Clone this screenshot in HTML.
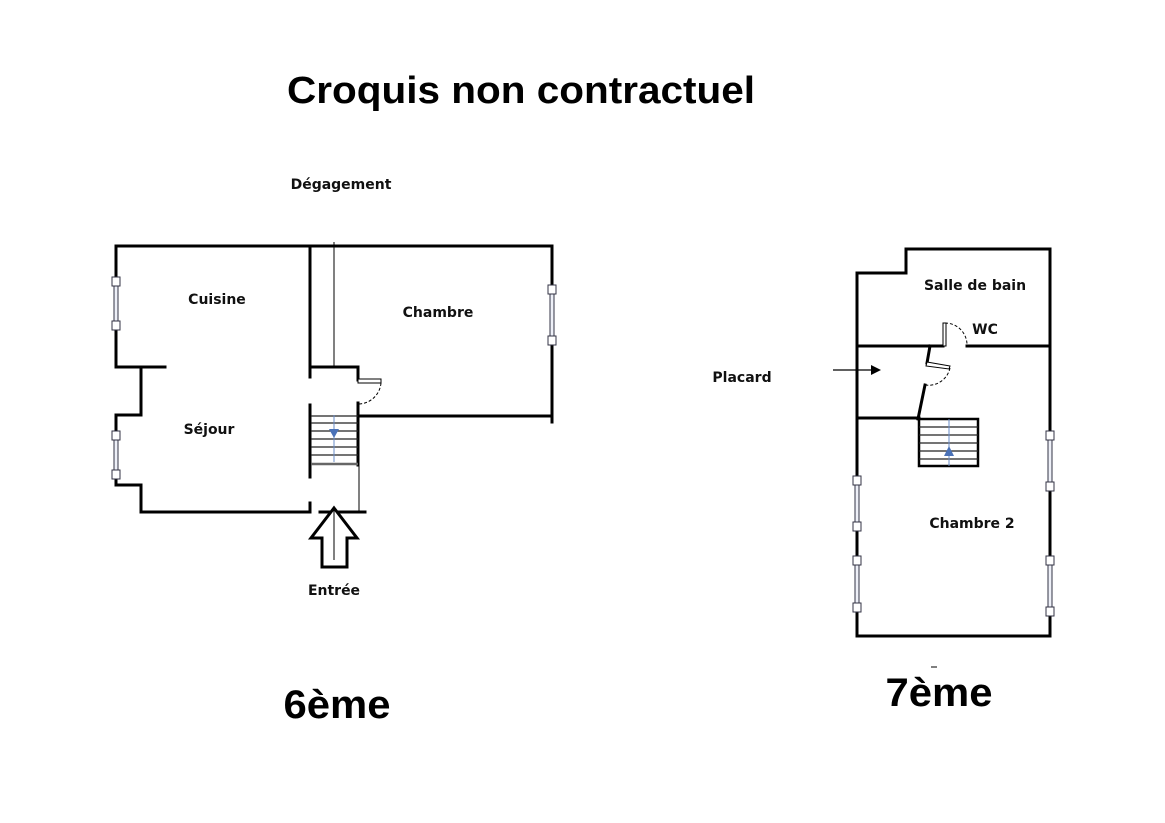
<!DOCTYPE html>
<html><head><meta charset="utf-8"><style>
html,body{margin:0;padding:0;background:#fff;}
svg{display:block;}
.l{font-family:"DejaVu Sans","Liberation Sans",sans-serif;font-weight:bold;font-size:14px;fill:#111;text-anchor:middle;}
.t{font-family:"Liberation Sans",sans-serif;font-weight:bold;fill:#000;text-anchor:middle;}
</style></head><body>
<svg width="1165" height="823" viewBox="0 0 1165 823" xmlns="http://www.w3.org/2000/svg">
<rect width="1165" height="823" fill="#fff"/>
<text class="t" x="521" y="103" font-size="38" textLength="468" lengthAdjust="spacingAndGlyphs">Croquis non contractuel</text>
<text class="l" x="341" y="189" font-size="13">Dégagement</text>

<g stroke="#000" stroke-width="3" fill="none" stroke-linecap="square">
<polyline points="552,422 552,246 116,246 116,367 165,367"/>
<polyline points="116,367 141,367 141,415 116,415 116,485 141,485 141,512 310,512"/>
<line x1="320" y1="512" x2="365" y2="512"/>
<line x1="310" y1="246" x2="310" y2="377"/>
<line x1="310" y1="405" x2="310" y2="477"/>
<line x1="310" y1="503" x2="310" y2="512"/>
<polyline points="310,367 358,367 358,380"/>
<line x1="358" y1="403" x2="358" y2="465"/>
<line x1="358" y1="416" x2="552" y2="416"/>
<polyline points="857,636 857,273 906,273 906,249 1050,249 1050,636 857,636"/>
<line x1="857" y1="346" x2="943" y2="346"/>
<line x1="967" y1="346" x2="1050" y2="346"/>
<line x1="857" y1="418" x2="919" y2="418"/>
<polyline points="930,346 927,363"/>
<polyline points="925,385 918,419"/>
</g>
<g stroke="#000" stroke-width="1" fill="none">
<line x1="334" y1="242" x2="334" y2="367"/>
<line x1="359" y1="465" x2="359" y2="512"/>
<rect x="358" y="379" width="23" height="4" fill="#fff"/>
<path d="M381,383 A23,23 0 0 1 358,404" stroke-dasharray="3,2"/>
<rect x="943" y="323" width="3" height="23" fill="#fff"/>
<path d="M945,323 A22,22 0 0 1 967,346" stroke-dasharray="3,2"/>
<polygon points="927,362 950,366 949,369 926,366" fill="#fff"/>
<path d="M950,368 A22,22 0 0 1 925,385" stroke-dasharray="3,2"/>
</g>
<g stroke="#222" stroke-width="1.3">
<line x1="311" y1="416" x2="358" y2="416"/><line x1="311" y1="423" x2="358" y2="423"/>
<line x1="311" y1="431" x2="358" y2="431"/><line x1="311" y1="439" x2="358" y2="439"/>
<line x1="311" y1="447" x2="358" y2="447"/><line x1="311" y1="455" x2="358" y2="455"/>
<line x1="311" y1="464" x2="358" y2="464" stroke-width="2.5" stroke="#666"/>
</g>
<line x1="334" y1="415" x2="334" y2="462" stroke="#6a8cc8" stroke-width="1"/>
<polygon points="329,429 339,429 334,438" fill="#4a72b8"/>
<rect x="919" y="419" width="59" height="47" fill="none" stroke="#000" stroke-width="2.5"/>
<g stroke="#222" stroke-width="1.3">
<line x1="919" y1="427" x2="978" y2="427"/><line x1="919" y1="435" x2="978" y2="435"/>
<line x1="919" y1="443" x2="978" y2="443"/><line x1="919" y1="451" x2="978" y2="451"/>
<line x1="919" y1="459" x2="978" y2="459"/>
</g>
<line x1="949" y1="419" x2="949" y2="466" stroke="#6a8cc8" stroke-width="1"/>
<polygon points="944,456 954,456 949,446" fill="#4a72b8"/>
<!-- windows -->
<g fill="#eef0f8" stroke="none">
<rect x="114" y="281" width="4" height="45"/><rect x="114" y="436" width="4" height="39"/>
<rect x="550" y="290" width="4" height="51"/>
<rect x="855" y="481" width="4" height="46"/><rect x="855" y="561" width="4" height="47"/>
<rect x="1048" y="436" width="4" height="51"/><rect x="1048" y="561" width="4" height="51"/>
</g>
<g stroke="#334" stroke-width="1" fill="#fff">
<line x1="114" y1="281" x2="114" y2="326"/><line x1="118" y1="281" x2="118" y2="326"/>
<line x1="114" y1="436" x2="114" y2="475"/><line x1="118" y1="436" x2="118" y2="475"/>
<line x1="550" y1="290" x2="550" y2="341"/><line x1="554" y1="290" x2="554" y2="341"/>
<line x1="855" y1="481" x2="855" y2="527"/><line x1="859" y1="481" x2="859" y2="527"/>
<line x1="855" y1="561" x2="855" y2="608"/><line x1="859" y1="561" x2="859" y2="608"/>
<line x1="1048" y1="436" x2="1048" y2="487"/><line x1="1052" y1="436" x2="1052" y2="487"/>
<line x1="1048" y1="561" x2="1048" y2="612"/><line x1="1052" y1="561" x2="1052" y2="612"/>
<rect x="112" y="277" width="8" height="9"/><rect x="112" y="321" width="8" height="9"/>
<rect x="112" y="431" width="8" height="9"/><rect x="112" y="470" width="8" height="9"/>
<rect x="548" y="285" width="8" height="9"/><rect x="548" y="336" width="8" height="9"/>
<rect x="853" y="476" width="8" height="9"/><rect x="853" y="522" width="8" height="9"/>
<rect x="853" y="556" width="8" height="9"/><rect x="853" y="603" width="8" height="9"/>
<rect x="1046" y="431" width="8" height="9"/><rect x="1046" y="482" width="8" height="9"/>
<rect x="1046" y="556" width="8" height="9"/><rect x="1046" y="607" width="8" height="9"/>
</g>
<polygon points="334,508 357,538 347,538 347,567 322,567 322,538 311,538" fill="#fff" stroke="#000" stroke-width="3" stroke-linejoin="miter"/>
<line x1="334" y1="510" x2="334" y2="560" stroke="#000" stroke-width="1"/>
<line x1="833" y1="370" x2="872" y2="370" stroke="#000" stroke-width="1.2"/>
<polygon points="881,370 871,365 871,375" fill="#000"/>
<line x1="931" y1="667" x2="937" y2="667" stroke="#000" stroke-width="1"/>

<text class="l" x="217" y="304">Cuisine</text>
<text class="l" x="438" y="317">Chambre</text>
<text class="l" x="209" y="434">Séjour</text>
<text class="l" x="334" y="595" font-size="13">Entrée</text>
<text class="l" x="975" y="290">Salle de bain</text>
<text class="l" x="985" y="334">WC</text>
<text class="l" x="742" y="382">Placard</text>
<text class="l" x="972" y="528">Chambre 2</text>
<text class="t" x="337" y="718" font-size="40" textLength="107" lengthAdjust="spacingAndGlyphs">6ème</text>
<text class="t" x="939" y="706" font-size="40" textLength="107" lengthAdjust="spacingAndGlyphs">7ème</text>
</svg>
</body></html>
